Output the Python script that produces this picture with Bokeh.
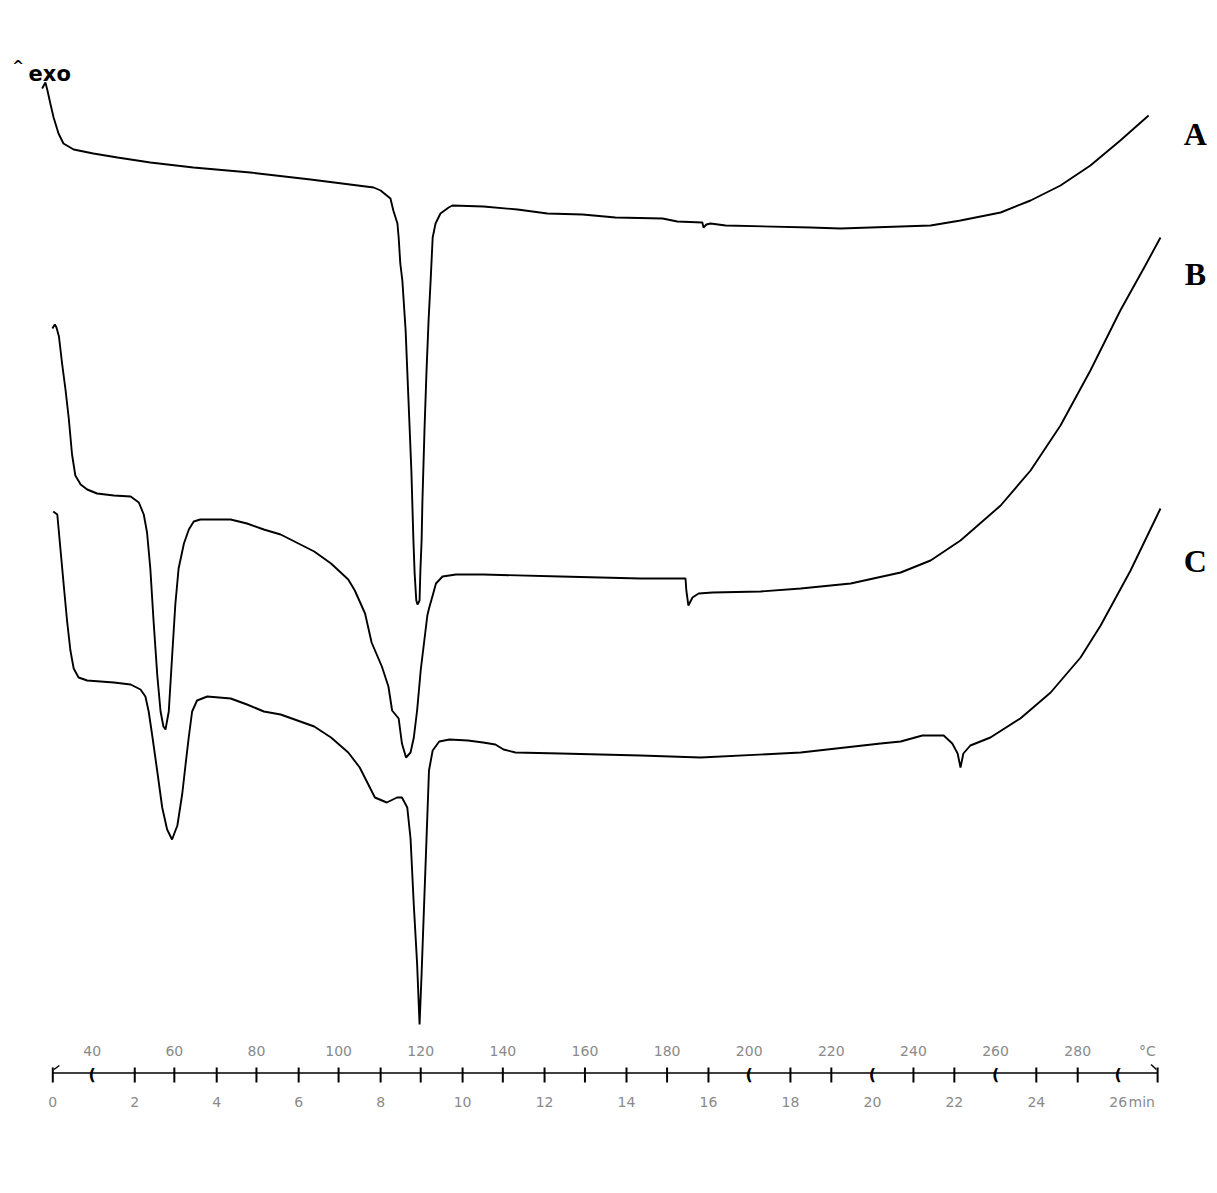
from bokeh.plotting import figure
from bokeh.models import Range1d
from bokeh.embed import file_html
from bokeh.resources import INLINE
from bokeh.core.properties import value

# ---- DSC curves: time (min) vs heat flow (arbitrary units, exo up) ----
a_time = [-0.26, -0.18, -0.13, -0.06, 0.02, 0.14, 0.26, 0.51, 0.99, 1.58,
          2.38, 3.43, 4.82, 6.29, 7.83, 8.00, 8.24, 8.31, 8.41, 8.44,
          8.48, 8.53, 8.61, 8.68, 8.75, 8.80, 8.83, 8.87, 8.90, 8.95,
          8.97, 9.00, 9.02, 9.07, 9.12, 9.17, 9.22, 9.27, 9.34, 9.46,
          9.66, 9.75, 10.51, 11.34, 12.07, 12.93, 13.73, 14.88, 15.24, 15.85,
          15.88, 15.95, 16.05, 16.42, 18.49, 19.22, 21.42, 22.15, 23.13, 23.86,
          24.59, 25.32, 26.05, 26.74]
a_flow = [10.12, 10.18, 10.10, 9.97, 9.83, 9.67, 9.57, 9.51, 9.47, 9.43,
          9.38, 9.33, 9.28, 9.21, 9.13, 9.10, 9.02, 8.90, 8.77, 8.63,
          8.37, 8.20, 7.70, 7.00, 6.30, 5.60, 5.27, 5.00, 4.96, 5.00,
          5.30, 5.60, 6.00, 6.70, 7.30, 7.80, 8.20, 8.63, 8.77, 8.87,
          8.93, 8.95, 8.94, 8.91, 8.87, 8.86, 8.83, 8.82, 8.79, 8.78,
          8.73, 8.76, 8.77, 8.75, 8.73, 8.72, 8.75, 8.80, 8.88, 9.00,
          9.15, 9.35, 9.60, 9.85]

b_time = [-0.01, 0.05, 0.09, 0.15, 0.23, 0.31, 0.39, 0.47, 0.55, 0.68,
          0.84, 1.08, 1.49, 1.90, 2.10, 2.22, 2.30, 2.38, 2.46, 2.55,
          2.63, 2.70, 2.75, 2.83, 2.91, 2.99, 3.07, 3.20, 3.32, 3.44,
          3.60, 4.34, 4.74, 5.15, 5.56, 6.38, 6.79, 7.21, 7.37, 7.62,
          7.78, 8.03, 8.19, 8.28, 8.44, 8.52, 8.62, 8.73, 8.81, 8.89,
          8.98, 9.06, 9.14, 9.18, 9.27, 9.35, 9.51, 9.84, 10.50, 12.39,
          14.34, 15.44, 15.46, 15.51, 15.61, 15.76, 16.10, 17.27, 18.25, 19.47,
          20.69, 21.42, 22.15, 23.13, 23.86, 24.59, 25.32, 26.05, 26.66, 27.03]
b_flow = [7.72, 7.76, 7.73, 7.64, 7.36, 7.11, 6.82, 6.46, 6.25, 6.16,
          6.11, 6.07, 6.05, 6.04, 5.98, 5.86, 5.68, 5.32, 4.79, 4.25,
          3.89, 3.74, 3.71, 3.89, 4.43, 4.96, 5.32, 5.57, 5.71, 5.79,
          5.81, 5.81, 5.77, 5.71, 5.66, 5.49, 5.37, 5.21, 5.10, 4.87,
          4.58, 4.34, 4.14, 3.90, 3.82, 3.57, 3.43, 3.48, 3.63, 3.90,
          4.31, 4.58, 4.85, 4.92, 5.05, 5.17, 5.24, 5.26, 5.26, 5.24,
          5.22, 5.22, 5.10, 4.95, 5.03, 5.07, 5.08, 5.09, 5.12, 5.17,
          5.28, 5.40, 5.60, 5.95, 6.30, 6.75, 7.30, 7.90, 8.35, 8.63]

c_time = [0.01, 0.11, 0.19, 0.27, 0.35, 0.43, 0.51, 0.63, 0.84, 1.49,
          1.90, 2.14, 2.26, 2.34, 2.43, 2.55, 2.67, 2.79, 2.91, 3.04,
          3.16, 3.24, 3.32, 3.40, 3.52, 3.77, 4.34, 4.74, 5.15, 5.56,
          6.38, 6.79, 7.21, 7.49, 7.70, 7.86, 8.15, 8.40, 8.52, 8.65,
          8.73, 8.81, 8.89, 8.95, 9.00, 9.06, 9.12, 9.18, 9.27, 9.43,
          9.68, 10.13, 10.50, 10.80, 11.00, 11.29, 12.39, 14.34, 15.81, 18.25,
          20.20, 20.69, 21.22, 21.74, 21.95, 22.08, 22.15, 22.22, 22.39, 22.88,
          23.61, 24.35, 25.08, 25.57, 26.30, 27.03]
c_flow = [5.89, 5.86, 5.50, 5.14, 4.79, 4.50, 4.32, 4.23, 4.20, 4.18,
          4.16, 4.11, 4.04, 3.89, 3.64, 3.29, 2.93, 2.71, 2.61, 2.75,
          3.07, 3.36, 3.64, 3.89, 4.00, 4.04, 4.02, 3.96, 3.89, 3.86,
          3.74, 3.63, 3.48, 3.33, 3.16, 3.03, 2.98, 3.03, 3.03, 2.93,
          2.62, 1.95, 1.37, 0.76, 1.27, 1.95, 2.62, 3.30, 3.50, 3.59,
          3.61, 3.60, 3.58, 3.56, 3.51, 3.48, 3.47, 3.45, 3.43, 3.48,
          3.57, 3.59, 3.65, 3.65, 3.57, 3.47, 3.33, 3.47, 3.55, 3.63,
          3.82, 4.08, 4.43, 4.75, 5.30, 5.92]

curve_names = ["A", "B", "C"]

# ---- axis scales ----
time_ticks = [0, 2, 4, 6, 8, 10, 12, 14, 16, 18, 20, 22, 24, 26]
temp_ticks = [40, 60, 80, 100, 120, 140, 160, 180, 200, 220, 240, 260, 280]
bracket_time = [20, 26]          # ticks drawn as "(" marks
bracket_temp = [40, 200, 260]
T_START = 30.4                   # °C at t = 0
RATE = 9.98                      # K/min
T_END_MIN = 26.96


def temp_to_time(T):
    return (T - T_START) / RATE


W, H = 1209, 1177
PX_PER_MIN = 40.98
X0 = -1.276
Y1 = 11.00
p = figure(width=W, height=H,
           x_range=Range1d(X0, X0 + W / PX_PER_MIN), y_range=Range1d(Y1 - H / 100.0, Y1),
           output_backend="svg", toolbar_location=None, min_border=0,
           x_axis_location=None, y_axis_location=None)
p.grid.visible = False
p.outline_line_color = None
p.background_fill_color = "white"
p.border_fill_color = "white"

for t, f in [(a_time, a_flow), (b_time, b_flow), (c_time, c_flow)]:
    p.line(t, f, line_color="black", line_width=1.9)

# ---- combined time / temperature axis ----
AX_Y = 0.275
TK_TOP, TK_BOT = 0.33, 0.18
p.line([0, T_END_MIN], [AX_Y, AX_Y], line_color="black", line_width=1.7)

tt_plain = [t for t in time_ticks if t not in bracket_time]
Tt_plain = [temp_to_time(T) for T in temp_ticks if T not in bracket_temp]
tick_x = tt_plain + Tt_plain + [T_END_MIN]
p.segment(x0=tick_x, y0=[TK_TOP] * len(tick_x), x1=tick_x, y1=[TK_BOT] * len(tick_x),
          line_color="black", line_width=2)
# small end flourishes
p.segment(x0=[0.03, T_END_MIN - 0.03], y0=[0.31, 0.31], x1=[0.16, T_END_MIN - 0.16], y1=[0.35, 0.36],
          line_color="black", line_width=1.5)

br_x = bracket_time + [temp_to_time(T) for T in bracket_temp]
p.text(x=br_x, y=[AX_Y - 0.01] * len(br_x), text=["("] * len(br_x),
       text_align="center", text_baseline="middle", text_font_size="16px",
       text_font=value("DejaVu Sans"), text_color="black", text_font_style="bold")

LBL = dict(text_baseline="middle", text_font_size="14px",
           text_font=value("DejaVu Sans"), text_color="#8a8a8a")
p.text(x=[temp_to_time(T) for T in temp_ticks], y=[0.50] * len(temp_ticks),
       text=[str(T) for T in temp_ticks], text_align="center", **LBL)
p.text(x=time_ticks, y=[-0.01] * len(time_ticks), text=[str(t) for t in time_ticks],
       text_align="center", **LBL)
p.text(x=[26.71], y=[0.50], text=["°C"], text_align="center", **LBL)
p.text(x=[26.25], y=[-0.01], text=["min"], text_align="left", **LBL)

# ---- "^exo" marker and curve labels ----
p.text(x=[-0.99], y=[10.35], text=["^"], text_align="left", text_baseline="alphabetic",
       text_font_size="14px", text_font=value("DejaVu Sans"), text_font_style="bold",
       text_color="black")
p.text(x=[-0.59], y=[10.27], text=["exo"], text_align="left", text_baseline="alphabetic",
       text_font_size="21px", text_font=value("DejaVu Sans"), text_font_style="bold",
       text_color="black")
p.text(x=[27.88] * 3, y=[9.67, 8.27, 5.40], text=curve_names, text_align="center",
       text_baseline="alphabetic", text_font_size="32px", text_font=value("Liberation Serif"),
       text_font_style="bold", text_color="black")

open("out.html", "w").write(file_html(p, INLINE))
